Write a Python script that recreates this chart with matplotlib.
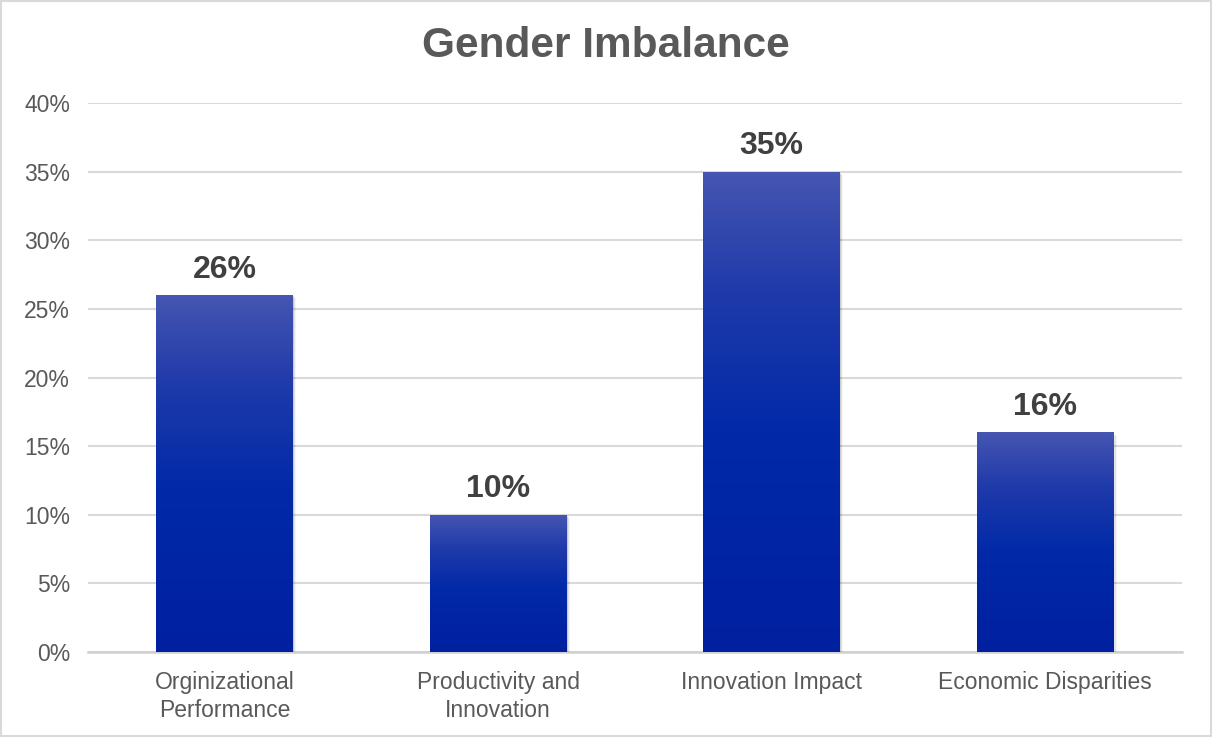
import numpy as np
import matplotlib.pyplot as plt
import matplotlib.colors as mcolors
from matplotlib.patches import Rectangle
from matplotlib.ticker import MultipleLocator, FuncFormatter

plt.rcParams['font.family'] = ['Liberation Sans', 'DejaVu Sans']

# datos del grafico
categorias = ['Orginizational\nPerformance', 'Productivity and\nInnovation',
              'Innovation Impact', 'Economic Disparities']
valores = [26, 10, 35, 16]
titulo = 'Gender Imbalance'

# degradado de cada barra (arriba claro, abajo azul intenso)
degradado = mcolors.LinearSegmentedColormap.from_list(
    'barra', [(0.0, '#0020A0'), (0.45, '#0029A8'), (0.75, '#1F3AAA'), (1.0, '#4656B1')])

fig = plt.figure(figsize=(12.12, 7.37), dpi=100)
ax = fig.add_axes([0.0726, 0.1153, 0.9024, 0.7449])

x = np.arange(len(valores))
ancho = 0.5

barras = ax.bar(x, valores, width=ancho, color='none', zorder=3)

for b, v in zip(barras, valores):
    x0, y0 = b.get_x(), b.get_y()
    w, h = b.get_width(), b.get_height()
    # sombra suave a la derecha y abajo
    for k, a in enumerate([0.10, 0.07, 0.04]):
        ax.add_patch(Rectangle((x0 + 0.004 * (k + 1), y0 - 0.08 * (k + 1)), w, h,
                               facecolor='black', alpha=a, linewidth=0, zorder=2))
    grad = np.linspace(0, 1, 256).reshape(-1, 1)
    im = ax.imshow(grad, cmap=degradado, origin='lower', aspect='auto',
                   extent=[x0, x0 + w, y0, y0 + h], zorder=3)
    rect = Rectangle((x0, y0), w, h, transform=ax.transData)
    im.set_clip_path(rect)
    ax.text(x0 + w / 2, y0 + h + 0.75, f'{v}%',
            ha='center', va='bottom', fontsize=23, fontweight='bold', color='#404040', zorder=4)

ax.set_xlim(-0.5, len(valores) - 0.5)
ax.set_ylim(0, 40)
ax.yaxis.set_major_locator(MultipleLocator(5))
ax.yaxis.set_major_formatter(FuncFormatter(lambda v, p: f'{v:.0f}%'))
ax.set_xticks(x)
ax.set_xticklabels(categorias, fontsize=16.5, color='#595959', linespacing=1.25)
ax.tick_params(axis='y', labelsize=16.5, labelcolor='#595959', length=0, pad=13)
ax.tick_params(axis='x', length=0, pad=14)

ax.grid(axis='y', color='#D9D9D9', linewidth=1.5, zorder=0)
ax.set_axisbelow(True)
for s in ['top', 'right', 'left']:
    ax.spines[s].set_visible(False)
ax.spines['bottom'].set_color('#D0D0D0')
ax.spines['bottom'].set_linewidth(1.8)
ax.spines['bottom'].set_zorder(1)

fig.text(0.5, 0.938, titulo, ha='center', va='center', fontsize=30.5,
         fontweight='bold', color='#595959')

# borde del grafico
fig.patches.append(Rectangle((0.001, 0.001), 0.998, 0.997, transform=fig.transFigure,
                             fill=False, edgecolor='#D9D9D9', linewidth=1.5))

plt.savefig('out.png', dpi=100)
